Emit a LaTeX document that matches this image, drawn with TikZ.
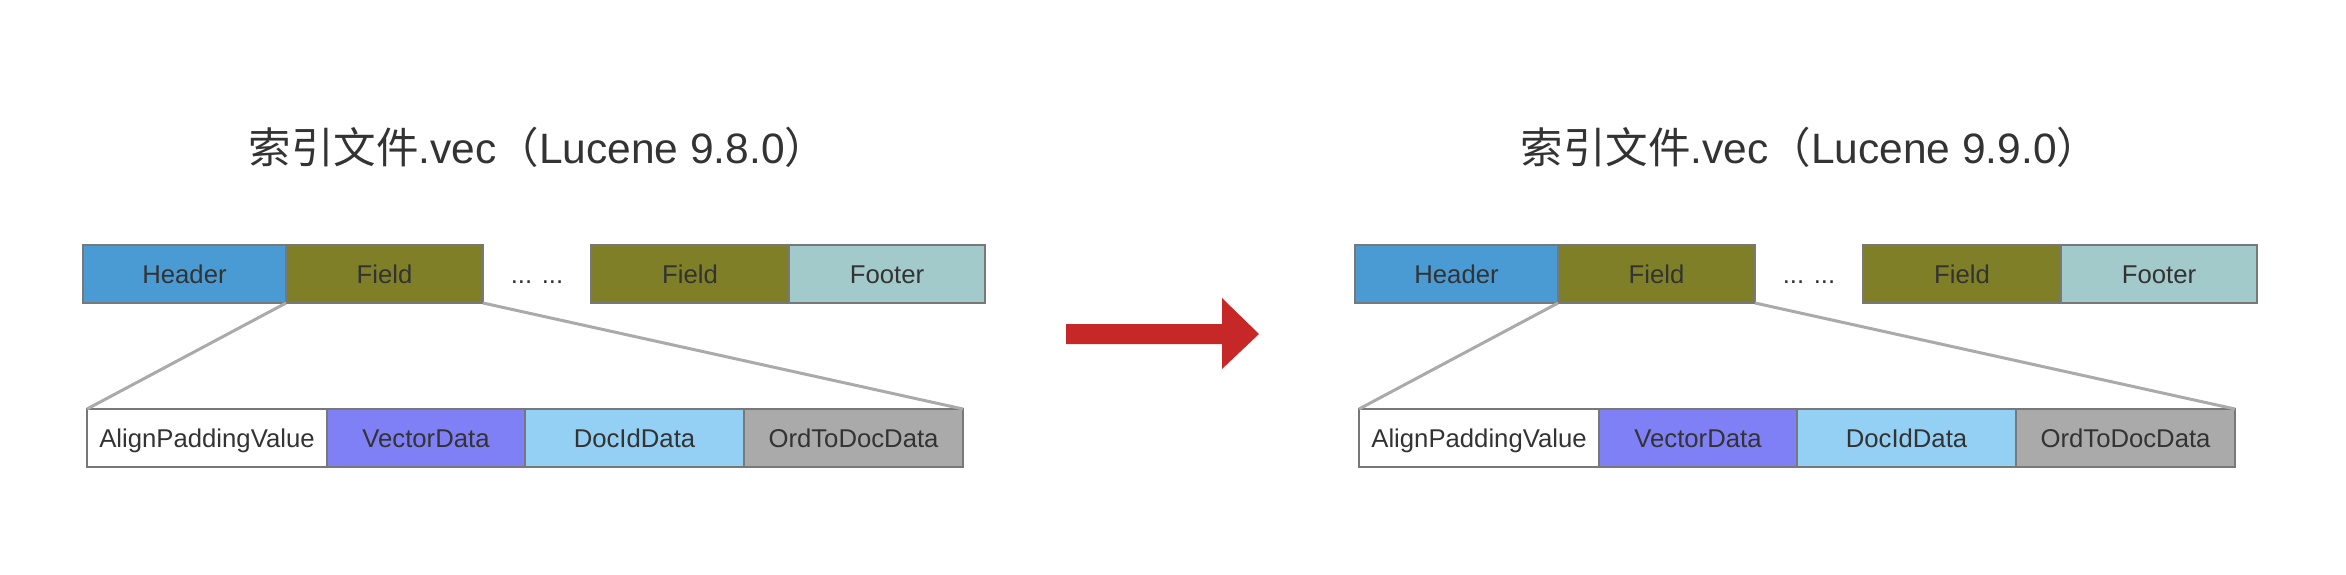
\documentclass[tikz,border=0pt]{standalone}
\usepackage{fontspec}
\setmainfont{Liberation Sans}
\newfontfamily\cjk{Noto Sans CJK SC}
\definecolor{txt}{HTML}{333333}
\definecolor{bordergray}{HTML}{787878}
\definecolor{linkgray}{HTML}{AAAAAA}
\definecolor{hdrblue}{HTML}{4A9BD4}
\definecolor{fieldolive}{HTML}{7F7F27}
\definecolor{footteal}{HTML}{A3CACA}
\definecolor{vecpurple}{HTML}{8080F6}
\definecolor{docblue}{HTML}{94D0F4}
\definecolor{ordgray}{HTML}{AAAAAA}
\definecolor{arrowred}{HTML}{C62828}
\tikzset{
  cell/.style={draw=bordergray, line width=2pt, minimum height=58pt, inner sep=0pt,
    outer sep=0pt, anchor=west, text=txt, font=\fontsize{25.7}{30}\selectfont,
    text height=18.4pt, text depth=0pt},
  dots/.style={inner sep=0pt, text=txt, font=\fontsize{25.7}{30}\selectfont,
    text height=18.4pt, text depth=0pt},
  titletext/.style={inner sep=0pt, anchor=base, text=txt, font=\fontsize{42.5}{50}\selectfont},
  zoomline/.style={draw=linkgray, line width=3pt}
}
\newcommand\drawpanel[3]{%
  \begin{scope}[xshift=#1pt]
    \node[titletext] (title#3) at (538,163) {{\cjk 索引文件}.vec{\cjk （}Lucene #2{\cjk ）}};
    % top row
    \node[cell, fill=hdrblue, minimum width=203pt] (hdr#3) at (83,274) {Header};
    \node[cell, fill=fieldolive, minimum width=197pt] (fa#3) at (hdr#3.east) {Field};
    \node[dots] (dots#3) at (537,274) {... ...};
    \node[cell, fill=fieldolive, minimum width=198pt] (fb#3) at (591,274) {Field};
    \node[cell, fill=footteal, minimum width=196pt] (ftr#3) at (fb#3.east) {Footer};
    % bottom row
    \node[cell, fill=white, minimum width=240pt] (pad#3) at (87,438) {AlignPaddingValue};
    \node[cell, fill=vecpurple, minimum width=198pt] (vec#3) at (pad#3.east) {VectorData};
    \node[cell, fill=docblue, minimum width=219pt] (doc#3) at (vec#3.east) {DocIdData};
    \node[cell, fill=ordgray, minimum width=219pt] (ord#3) at (doc#3.east) {OrdToDocData};
    % zoom lines
    \draw[zoomline] (fa#3.south west) -- (pad#3.north west);
    \draw[zoomline] (fa#3.south east) -- (ord#3.north east);
  \end{scope}}
\begin{document}
\begin{tikzpicture}[x=1pt,y=-1pt]
  \useasboundingbox[fill=white] (0,0) rectangle (2346,574);
  \drawpanel{0}{9.8.0}{L}
  \drawpanel{1272}{9.9.0}{R}
  \fill[arrowred] (1066,324) -- (1222,324) -- (1222,298) -- (1259,334) -- (1222,369) -- (1222,344) -- (1066,344) -- cycle;
\end{tikzpicture}
\end{document}
